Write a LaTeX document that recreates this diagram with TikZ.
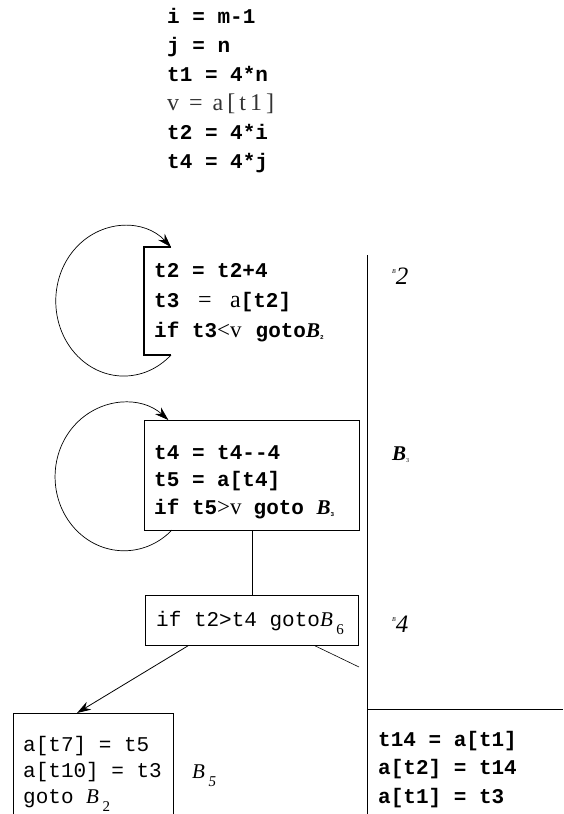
\documentclass[tikz,border=0pt]{standalone}
\usepackage{fontspec}
\setmainfont{Liberation Serif}
\setmonofont{Liberation Mono}
\usetikzlibrary{arrows.meta, positioning, calc}

\newcommand{\rmv}[1]{{\rmfamily\mdseries #1}}
\newcommand{\blkB}{{\rmfamily\itshape B}}
\newcommand{\tinysub}[1]{\raisebox{-2pt}{\fontsize{6}{6}\selectfont #1}}
\newcommand{\tinysup}[1]{\raisebox{11pt}{\fontsize{6}{6}\selectfont #1}}
\newcommand{\bigsub}[1]{\raisebox{-8pt}{\rmfamily\mdseries\fontsize{15}{15}\selectfont #1}}

\begin{document}
\begin{tikzpicture}[
    x=1pt, y=-1pt,
    code/.style={anchor=base west, inner sep=0pt, align=left, font=\ttfamily\bfseries\fontsize{21}{29}\selectfont},
    plain/.style={anchor=base west, inner sep=0pt, align=left, font=\ttfamily\fontsize{21}{26}\selectfont},
    tag/.style={anchor=base west, inner sep=0pt, font=\rmfamily\fontsize{21}{21}\selectfont},
    frame/.style={draw=black, line width=0.8pt},
    stub/.style={draw=black, line width=1.3pt},
    loop/.style={draw=black, line width=0.7pt, -{Stealth[length=14pt, width=9pt]}},
    arr/.style={draw=black, line width=0.8pt, -{Stealth[length=14pt, width=9pt]}}
]
\useasboundingbox (0,0) rectangle (563,814);

% Entry block (anchored at the baseline of its last line)
\node[code] (entry) at (167,168) {i = m-1\\j = n\\t1 = 4*n\\{\rmfamily\mdseries\fontsize{24}{29}\selectfont\color{black!80}v\hspace{10pt}=\hspace{10pt}a\,[\,t\,1\,]}\\t2 = 4*i\\t4 = 4*j};

% Block B2 (open frame)
\coordinate (b2nw) at (144,247);
\coordinate (b2sw) at (144,355);
\coordinate (b2ne) at (171,247);
\coordinate (b2se) at (171,355);
\node[code, font=\ttfamily\bfseries\fontsize{21}{30}\selectfont] (b2text) at (154,337) {t2 = t2+4\\t3 \rmv{\fontsize{24}{30}\selectfont\ =\ }\ \rmv{\fontsize{24}{30}\selectfont a}[t2]\\if t3\rmv{\fontsize{23}{30}\selectfont<v}\hspace{14pt}goto{\bfseries\blkB}\tinysub{2}};
\draw[stub] (b2ne) -- (b2nw) -- (b2sw) -- (b2se);
\draw[loop] (b2se) arc[start angle=46, end angle=314, x radius=68, y radius=75];

% Block B3
\node[frame, anchor=north west, minimum width=215pt, minimum height=110pt, inner sep=0pt] (b3) at (144,420) {};
\node[code, font=\ttfamily\bfseries\fontsize{21}{27.5}\selectfont] (b3text) at (154,514) {t4 = t4--4\\t5 = a[t4]\\if t5\rmv{\fontsize{23}{27}\selectfont>v}\hspace{12pt}goto {\bfseries\blkB}\tinysub{3}};
\coordinate (b3loop) at (172,530);
\draw[loop] (b3loop) arc[start angle=46, end angle=310, x radius=69, y radius=74];

% Block B4
\node[frame, anchor=north west, minimum width=213pt, minimum height=50pt, inner sep=0pt] (b4) at (145,595) {};
\node[plain] (b4text) at (156,626) {if t2>t4 goto\blkB\,\bigsub{6}};

% Block B5 (frame runs off the page)
\coordinate (b5sw) at (13,814);
\coordinate (b5nw) at (13,713);
\coordinate (b5ne) at (173,713);
\coordinate (b5se) at (173,814);
\draw[frame] (b5sw) -- (b5nw) -- (b5ne) -- (b5se);
\node[plain] (b5text) at (23,803) {a[t7] = t5\\a[t10] = t3\\goto \blkB\,\bigsub{2}};

% Block B6 text and divider lines
\coordinate (divtop) at (367,255);
\coordinate (divbot) at (367,814);
\coordinate (divmid) at (367,709);
\coordinate (divend) at (563,709);
\draw[frame] (divtop) -- (divbot);
\draw[frame] (divmid) -- (divend);
\node[code, font=\ttfamily\bfseries\fontsize{21}{28.5}\selectfont] (b6text) at (378,803) {t14 = a[t1]\\a[t2] = t14\\a[t1] = t3};

% Block labels
\node[tag] (lb2) at (392,284) {\tinysup{\itshape B}\fontsize{25}{25}\selectfont\itshape 2};
\node[tag] (lb3) at (392,460) {{\bfseries\itshape B}\tinysub{3}};
\node[tag] (lb4) at (392,632) {\tinysup{\itshape B}\fontsize{25}{25}\selectfont\itshape 4};
\node[tag] (lb5) at (192,778) {\itshape B\,\bigsub{5}};

% Connectors
\draw[frame] (b3.south) -- (b4.north);
\draw[arr] ([xshift=43pt]b4.south west) -- ([xshift=64pt]b5nw);
\coordinate (b6cut) at (359,667);
\draw[frame, line width=0.6pt] ([xshift=170pt]b4.south west) -- (b6cut);

\end{tikzpicture}
\end{document}
